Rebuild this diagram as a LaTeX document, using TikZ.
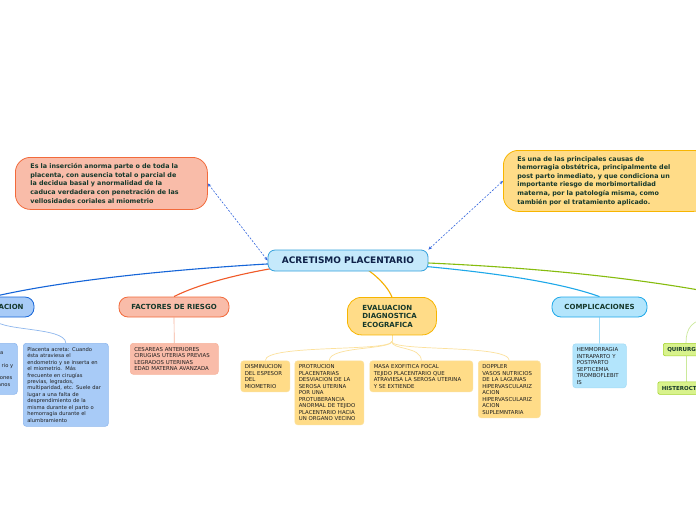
\documentclass[tikz,border=0pt]{standalone}
\usepackage{fontspec}
\setmainfont{DejaVu Sans}
\usetikzlibrary{backgrounds,calc,arrows.meta}
\definecolor{cenfill}{HTML}{C5E9FB}
\definecolor{cendraw}{HTML}{35A2DC}
\definecolor{salfill}{HTML}{F9BCA9}
\definecolor{saldraw}{HTML}{F26A3B}
\definecolor{salline}{HTML}{F7B39C}
\definecolor{yelfill}{HTML}{FFDC88}
\definecolor{yeldraw}{HTML}{F7B500}
\definecolor{yelline}{HTML}{FCE19C}
\definecolor{yelbr}{HTML}{F5B000}
\definecolor{lbfill}{HTML}{B3E5FC}
\definecolor{lbdraw}{HTML}{1EA8E9}
\definecolor{lbline}{HTML}{A3DCF6}
\definecolor{bfill}{HTML}{A8CBF7}
\definecolor{bdraw}{HTML}{1565D8}
\definecolor{bline}{HTML}{8FB8EE}
\definecolor{gfill}{HTML}{D8F28C}
\definecolor{gdraw}{HTML}{A3D42A}
\definecolor{gbr}{HTML}{86BC0E}
\definecolor{gline}{HTML}{CBE99A}
\definecolor{orbr}{HTML}{F05A28}
\definecolor{dashblue}{HTML}{3366DD}
\definecolor{tdark}{HTML}{15382B}
\definecolor{tnavy}{HTML}{0E2148}
\definecolor{tsmall}{HTML}{1E1E1E}
\begin{document}
\begin{tikzpicture}[x=1pt,y=-1pt,
  central/.style={draw=cendraw, fill=cenfill, line width=0.8pt, rounded corners=7pt,
    minimum width=160pt, minimum height=21pt, inner sep=0pt,
    font=\fontsize{9}{10}\selectfont\bfseries, text=tnavy},
  callout/.style={line width=0.8pt, rounded corners=15pt, anchor=north west, align=left,
    inner ysep=0pt, font=\fontsize{6.4}{8.6}\selectfont\bfseries, text=tdark},
  hd/.style={line width=0.8pt, rounded corners=9pt, inner sep=0pt,
    font=\fontsize{7}{8.5}\selectfont\bfseries, text=tdark},
  sbox/.style={line width=0.6pt, rounded corners=3pt, anchor=north west, align=left,
    inner xsep=4pt, inner ysep=0pt, font=\fontsize{5.4}{6.5}\selectfont, text=tsmall},
  gbox/.style={draw=gdraw, fill=gfill, line width=0.6pt, rounded corners=2pt, anchor=north west,
    align=left, inner xsep=4pt, inner ysep=0pt, minimum height=12.5pt,
    font=\fontsize{5.5}{6.5}\selectfont\bfseries, text=tdark},
  branch/.style={line width=1.1pt},
  twig/.style={line width=0.7pt},
  dashar/.style={draw=dashblue, line width=0.6pt, dash pattern=on 2pt off 1.5pt,
    arrows={Stealth[length=3.5pt,width=3pt]-Stealth[length=3.5pt,width=3pt]}}
]
\useasboundingbox (0,0) rectangle (696,520);

% central
\node[central] (c) at (348,260.5) {ACRETISMO PLACENTARIO};

% callouts
\node[callout, draw=saldraw, fill=salfill, minimum width=192pt, minimum height=52pt,
  inner xsep=15pt, text width=162pt] (L) at (15,157)
  {Es la inserción anorma parte o de toda la\\placenta, con ausencia total o parcial de\\la decidua basal y anormalidad de la\\caduca verdadera con penetración de las\\vellosidades coriales al miometrio};
\node[callout, draw=yeldraw, fill=yelfill, minimum width=205pt, minimum height=61pt,
  inner xsep=14pt, text width=177pt] (R) at (503,150)
  {Es una de las principales causas de\\hemorragia obstétrica, principalmente del\\post parto inmediato, y que condiciona un\\importante riesgo de morbimortalidad\\materna, por la patología misma, como\\también por el tratamiento aplicado.};

% main headings
\node[hd, draw=bdraw, fill=bfill, minimum width=81pt, minimum height=20pt] (cla) at (-6.5,307) {CLASIFICACION};
\node[hd, draw=saldraw, fill=salfill, minimum width=110pt, minimum height=20pt] (fr) at (174,307) {FACTORES DE RIESGO};
\node[hd, draw=yeldraw, fill=yelfill, rounded corners=14pt, anchor=north west, align=left,
  minimum width=89pt, minimum height=37.5pt, inner xsep=15pt, text width=59pt] (ev) at (347,297)
  {EVALUACION\\DIAGNOSTICA\\ECOGRAFICA};
\node[hd, draw=lbdraw, fill=lbfill, minimum width=95pt, minimum height=20pt] (co) at (599.5,307) {COMPLICACIONES};

% clasificacion children
\node[sbox, draw=bline, fill=bfill, minimum width=87pt, minimum height=51pt, text width=79pt,
  align=right, font=\fontsize{5.2}{6.45}\selectfont] (cla1) at (-70,343)
  {a\hspace*{10pt}\mbox{}\\\mbox{}\\rio y\\\mbox{}\\ones\hspace*{1pt}\mbox{}\\anos\hspace*{3pt}\mbox{}};
\node[sbox, draw=bline, fill=bfill, minimum width=85pt, minimum height=83pt, text width=77pt,
  font=\fontsize{5.2}{6.45}\selectfont] (cla2) at (23,343)
  {Placenta acreta: Cuando\\ésta atraviesa el\\endometrio y se inserta en\\el miometrio.\ \ Más\\frecuente en cirugías\\previas, legrados,\\multiparidad, etc. Suele dar\\lugar a una falta de\\desprendimiento de la\\misma durante el parto o\\hemorragia durante el\\alumbramiento};

% factores child
\node[sbox, draw=salline, fill=salfill, minimum width=88pt, minimum height=31pt, text width=80pt] (fr1) at (130,343)
  {CESAREAS ANTERIORES\\CIRUGIAS UTERIAS PREVIAS\\LEGRADOS UTERINAS\\EDAD MATERNA AVANZADA};

% evaluacion children
\node[sbox, draw=yelline, fill=yelfill, minimum width=49pt, minimum height=31pt, text width=41pt] (d1) at (240.5,360.5)
  {DISMINUCION\\DEL ESPESOR\\DEL\\MIOMETRIO};
\node[sbox, draw=yelline, fill=yelfill, minimum width=69pt, minimum height=64pt, text width=61pt] (d2) at (294.5,360.5)
  {PROTRUCION\\PLACENTARIAS\\DESVIACION DE LA\\SEROSA UTERINA\\POR UNA\\PROTUBERANCIA\\ANORMAL DE TEJIDO\\PLACENTARIO HACIA\\UN ORGANO VECINO};
\node[sbox, draw=yelline, fill=yelfill, minimum width=103pt, minimum height=31pt, text width=95pt] (d3) at (369.5,360.5)
  {MASA EXOFITICA FOCAL\\TEJIDO PLACENTARIO QUE\\ATRAVIESA LA SEROSA UTERINA\\Y SE EXTIENDE};
\node[sbox, draw=yelline, fill=yelfill, minimum width=62pt, minimum height=57pt, text width=54pt] (d4) at (478,360.5)
  {DOPPLER\\VASOS NUTRICIOS\\DE LA LAGUNAS\\HIPERVASCULARIZ\\ACION\\HIPERVASCULARIZ\\ACION\\SUPLEMNTARIA};

% complicaciones child
\node[sbox, draw=lbline, fill=lbfill, minimum width=53.5pt, minimum height=44pt, text width=45.5pt] (co1) at (572.5,343.5)
  {HEMMORRAGIA\\INTRAPARTO Y\\POSTPARTO\\SEPTICEMIA\\TROMBOFLEBIT\\IS};

% right green boxes
\node[gbox, minimum width=60pt, text width=52pt] (q1) at (663,343) {QUIRURGICO};
\node[gbox, minimum width=70pt, text width=62pt] (q2) at (657.5,381.5) {HISTEROCTOMIA};

\coordinate (gend) at (710,292);
\coordinate (qp) at (712,318);

% dashed relations
\draw[dashar] (L.east) -- (c.west);
\draw[dashar] (R.west) -- (c.north east);

\begin{scope}[on background layer]
  \fill[white] (0,0) rectangle (696,520);
  % branches
  \draw[branch, draw=bdraw] (c.center) .. controls (280,262) and (100,272) .. (cla.north);
  \draw[branch, draw=orbr] (c.center) .. controls (290,262) and (210,278) .. (fr.north);
  \draw[branch, draw=yelbr] (c.center) .. controls (364,264) and (386,282) .. (ev.north);
  \draw[branch, draw=lbdraw] (c.center) .. controls (420,265) and (540,275) .. (co.north);
  \draw[branch, draw=gbr] (c.center) .. controls (430,262) and (580,268) .. (gend);
  % twigs
  \draw[twig, draw=bline] (cla.south) .. controls (-6.5,332) and (65.5,326) .. (cla2.north);
  \draw[twig, draw=bline] (cla.south) -- (cla1.north);
  \draw[twig, draw=salline] (fr) -- (fr1);
  \draw[twig, draw=lbline] (co) -- (co1);
  \draw[twig, draw=yelline] (ev.south) -- ++(0,6) coordinate (evf);
  \draw[twig, draw=yelline] (evf) .. controls (391,352) and (265,344) .. (d1.north);
  \draw[twig, draw=yelline] (evf) .. controls (391,350) and (329.5,346) .. (d2.north);
  \draw[twig, draw=yelline] (evf) .. controls (391,350) and (421,346) .. (d3.north);
  \draw[twig, draw=yelline] (evf) .. controls (391,352) and (509,344) .. (d4.north);
  \draw[twig, draw=gline] (qp) .. controls (692,319) and (686,328) .. ($(q1.north west)+(23,0)$);
  \draw[twig, draw=gline] ($(q1.south west)+(23,0)$) -- ($(q2.north west)+(28.5,0)$);
\end{scope}
\end{tikzpicture}
\end{document}
